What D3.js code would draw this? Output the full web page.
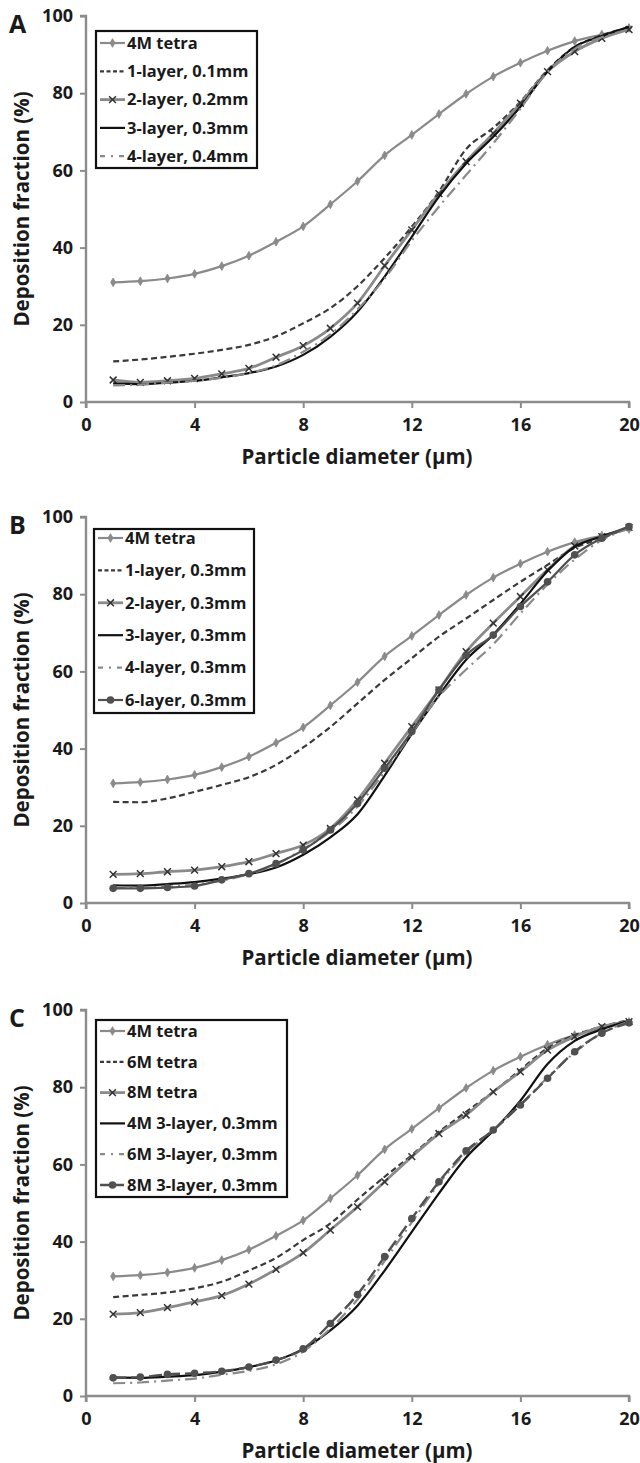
<!DOCTYPE html>
<html><head><meta charset="utf-8">
<script src="https://cdn.jsdelivr.net/npm/d3@7"></script>
<style>
html,body{margin:0;padding:0;background:#fff;}
svg{display:block;}
text{font-family:"Open Sans","Noto Sans",sans-serif;font-weight:700;fill:#1a1a1a;}
</style></head>
<body>
<script>
// ---- data ----
const diameters = [1,2,3,4,5,6,7,8,9,10,11,12,13,14,15,16,17,18,19,20];
const xTicks = [0,4,8,12,16,20];
const yTicks = [0,20,40,60,80,100];
const panelLabels = ["A","B","C"];
const xTitle = "Particle diameter (\u00b5m)";
const yTitle = "Deposition fraction (%)";

const tetra4M   = [31,31.3,32,33.2,35.2,37.9,41.5,45.5,51.2,57.2,63.9,69.2,74.6,79.8,84.3,87.9,91,93.5,95.2,96.9];
// Panel A
const layerA1 = [10.5,11,11.7,12.5,13.5,14.8,17,20.4,24.3,30,37.3,45.4,54.5,65.5,71,77.8,86,92,95,97];
const layerA2 = [5.7,5.1,5.5,6.1,7.3,8.7,11.6,14.6,19.1,25.6,35.3,44.6,54,62.3,69.6,77.4,85.6,90.8,94.2,96.5];
const layerA3 = [4.8,4.6,5,5.5,6.4,7.5,9.2,12.2,16.9,23.4,32.5,42.8,53.2,61.8,68.7,76.5,85.6,92,94.8,97.2];
const layerA4 = [4.3,4.5,5,5.5,6.3,7.5,9.5,13,17.5,24,32,41.8,50.6,58.8,67,76,85.5,91.5,94.5,96.5];
// Panel B
const layerB1 = [26.2,26.1,27.1,28.8,30.6,32.6,35.8,40.3,45.6,51.7,57.8,63.4,69,73.7,78.5,83.2,87.6,92,94.5,97.3];
const layerB2 = [7.4,7.6,8.1,8.5,9.4,10.7,12.8,15,19.3,26.7,36.2,45.7,55.2,65.1,72.5,79.4,86.3,92.5,94.9,97.3];
const layerB3 = [4.6,4.5,4.9,5.4,6.3,7.5,9.2,12.5,17,23,33,43.8,53.8,63,69.5,77.5,86,92.3,95,97.2];
const layerB4 = [4,4,4.2,4.8,5.8,7.5,10,14,18.5,25,34,44,53.5,60.5,67,75,82.5,89,94,97];
const layerB6 = [3.8,3.8,4,4.4,6,7.6,10.2,13.7,18.9,25.8,34.9,44.4,55.2,64.2,69.4,76.8,83.2,90.2,94.5,97.5];
// Panel C
const tetra6M   = [25.6,26.2,26.8,27.9,29.6,32.5,35.8,40.4,44.7,50.9,56.8,62.4,68.4,73.6,78.8,84.5,90.1,93.5,95.7,97.4];
const tetra8M   = [21.2,21.6,22.9,24.4,26,29,32.8,37.1,43,49,55.5,62,68,72.8,78.8,84,89.6,93.1,95.7,97];
const layer3M4  = [4.8,4.7,5,5.4,6.3,7.5,9.2,12.2,17,23.4,32.5,42.5,52.5,61.8,68.7,76.5,86,92,95,97.2];
const layer3M6  = [3.3,3.5,4,4.5,5.5,6.5,8.2,11.5,17.5,25,35,45,55,63,69,75.5,82.5,89,94,97];
const layer3M8  = [4.7,4.9,5.6,5.9,6.4,7.5,9.3,12.2,18.8,26.3,36.1,46,55.5,63.5,68.9,75.4,82.3,89.2,94,96.7];

// ---- styles ----
const S = {
  tetra:  {color:"#8a8a8a", width:2.2, dash:null,        marker:"diamond"},
  dashDk: {color:"#3a3a3a", width:2.2, dash:"6,3.5",     marker:null},
  xGray:  {color:"#8a8a8a", width:2.8, dash:null,        marker:"x"},
  solid:  {color:"#111",    width:2.2, dash:null,        marker:null},
  dashDot:{color:"#8a8a8a", width:2.2, dash:"12,5,2,5",  marker:null},
  dotDk:  {color:"#505050", width:2.2, dash:null,        marker:"circle"},
  longDk: {color:"#505050", width:2.4, dash:"13,5",      marker:"circle"},
};

const panels = [
  {label:panelLabels[0], top:16, legend:{x:96,y:31,w:161,h:137,step:28.3,first:43},
   series:[
    {name:"4M tetra", v:tetra4M, s:S.tetra},
    {name:"1-layer, 0.1mm", v:layerA1, s:S.dashDk},
    {name:"2-layer, 0.2mm", v:layerA2, s:S.xGray},
    {name:"3-layer, 0.3mm", v:layerA3, s:S.solid},
    {name:"4-layer, 0.4mm", v:layerA4, s:S.dashDot}]},
  {label:panelLabels[1], top:517, legend:{x:94,y:529,w:160,h:184,step:32.4,first:538},
   series:[
    {name:"4M tetra", v:tetra4M, s:S.tetra},
    {name:"1-layer, 0.3mm", v:layerB1, s:S.dashDk},
    {name:"2-layer, 0.3mm", v:layerB2, s:S.xGray},
    {name:"3-layer, 0.3mm", v:layerB3, s:S.solid},
    {name:"4-layer, 0.3mm", v:layerB4, s:S.dashDot},
    {name:"6-layer, 0.3mm", v:layerB6, s:S.dotDk}]},
  {label:panelLabels[2], top:1010, legend:{x:96,y:1020,w:191,h:177,step:30.8,first:1031},
   series:[
    {name:"4M tetra", v:tetra4M, s:S.tetra},
    {name:"6M tetra", v:tetra6M, s:S.dashDk},
    {name:"8M tetra", v:tetra8M, s:S.xGray},
    {name:"4M 3-layer, 0.3mm", v:layer3M4, s:S.solid},
    {name:"6M 3-layer, 0.3mm", v:layer3M6, s:S.dashDot},
    {name:"8M 3-layer, 0.3mm", v:layer3M8, s:S.longDk}]},
];

const W = 640, H = 1463;
const svg = d3.select("body").append("svg").attr("width", W).attr("height", H);

const x = d3.scaleLinear().domain([0,20]).range([86,629]);
const axisColor = "#8c8c8c";

function drawMarker(g, type, cx, cy, color){
  if(type==="diamond"){
    g.append("path").attr("d", d3.symbol(d3.symbolDiamond, 22)()).attr("transform",`translate(${cx},${cy})`)
      .attr("fill",color).attr("stroke",color).attr("stroke-width",0.8);
  } else if(type==="x"){
    const r=3.4;
    g.append("path").attr("d",`M${cx-r},${cy-r}L${cx+r},${cy+r}M${cx-r},${cy+r}L${cx+r},${cy-r}`)
      .attr("stroke","#333").attr("stroke-width",1.5).attr("fill","none");
  } else if(type==="circle"){
    g.append("circle").attr("cx",cx).attr("cy",cy).attr("r",3.8).attr("fill",color);
  }
}

panels.forEach(p => {
  const y = d3.scaleLinear().domain([0,100]).range([p.top+386, p.top]);
  const g = svg.append("g");

  // axes
  const ya = g.append("g").attr("transform",`translate(${x(0)},0)`)
    .call(d3.axisLeft(y).tickValues(yTicks).tickSize(6).tickPadding(7).tickFormat(d3.format("d")));
  const xa = g.append("g").attr("transform",`translate(0,${y(0)})`)
    .call(d3.axisBottom(x).tickValues(xTicks).tickSize(6).tickPadding(10).tickFormat(d3.format("d")));
  [ya,xa].forEach(a=>{
    a.select(".domain").attr("stroke",axisColor).attr("stroke-width",2.4);
    a.selectAll(".tick line").attr("stroke",axisColor).attr("stroke-width",2);
    a.selectAll(".tick text").attr("font-size",18).attr("fill","#1a1a1a")
      .attr("font-family","'Open Sans',sans-serif").attr("font-weight",700);
  });
  ya.select(".domain").attr("d",`M-6,${y(100)}H0V${y(0)}`);
  xa.select(".domain").attr("d",`M${x(0)},6V0H${x(20)}V6`);

  // titles
  g.append("text").attr("x",357).attr("y",y(0)+62).attr("text-anchor","middle")
    .attr("font-size",20.5).text(xTitle);
  g.append("text").attr("transform",`translate(29,${(y(0)+y(100))/2}) rotate(-90)`)
    .attr("text-anchor","middle").attr("font-size",20.5).text(yTitle);
  g.append("text").attr("x",9).attr("y",p.top+17).attr("font-size",25)
    .attr("font-family","'Liberation Sans',Arial,sans-serif").attr("fill","#111").text(p.label);

  // series
  const line = d3.line().x((d,i)=>x(diameters[i])).y(d=>y(d)).curve(d3.curveMonotoneX);
  p.series.forEach(se=>{
    const st = se.s;
    g.append("path").attr("d", line(se.v)).attr("fill","none")
      .attr("stroke",st.color).attr("stroke-width",st.width)
      .attr("stroke-dasharray",st.dash).attr("stroke-linejoin","round");
    if(st.marker){
      se.v.forEach((d,i)=>drawMarker(g, st.marker, x(diameters[i]), y(d), st.color));
    }
  });

  // legend
  const L = p.legend;
  g.append("rect").attr("x",L.x).attr("y",L.y).attr("width",L.w).attr("height",L.h)
    .attr("fill","#fff").attr("stroke","#111").attr("stroke-width",2.2);
  p.series.forEach((se,i)=>{
    const cy = L.first + i*L.step;
    const st = se.s;
    g.append("line").attr("x1",L.x+4).attr("x2",L.x+29).attr("y1",cy).attr("y2",cy)
      .attr("stroke",st.color).attr("stroke-width",st.width)
      .attr("stroke-dasharray", st.dash ? (st.dash==="12,5,2,5" ? "5,6,2,6" : (st.dash==="13,5"?"10,4":"4,2.5")) : null);
    if(st.marker) drawMarker(g, st.marker, L.x+16.5, cy, st.color);
    g.append("text").attr("x",L.x+31).attr("y",cy).attr("dy","0.35em")
      .attr("font-size",16.5).text(se.name);
  });
});
</script>
</body></html>
